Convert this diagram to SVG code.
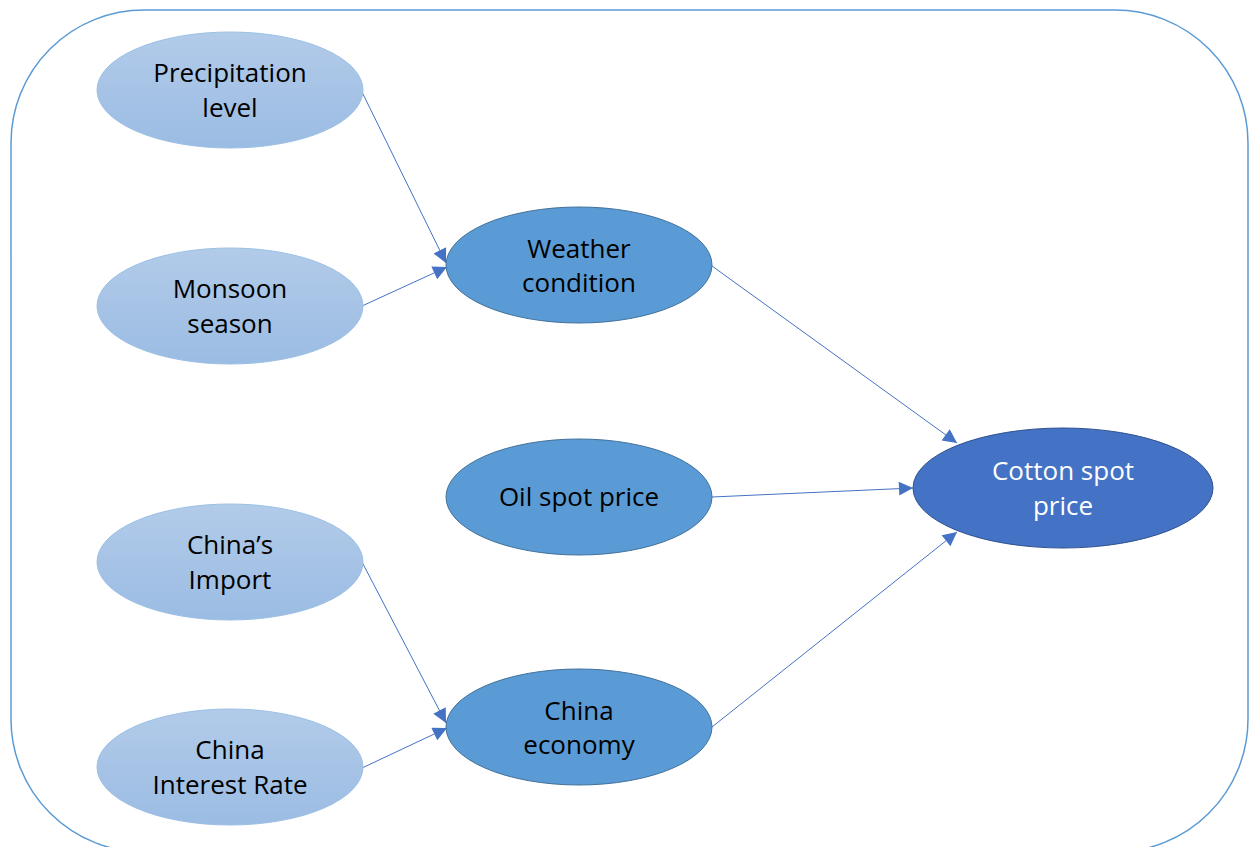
<svg xmlns="http://www.w3.org/2000/svg" width="1249" height="847" viewBox="0 0 1249 847">
<style>
.light{fill:url(#lg);stroke:#9cc0e4;stroke-width:1}
.mid{fill:#5b9bd5;stroke:#41719c;stroke-width:1}
.dark{fill:#4472c4;stroke:#2f528f;stroke-width:1}
.t{font-family:"Open Sans","Noto Sans",sans-serif;font-size:26px;text-anchor:middle;fill:#000}
.w{fill:#fff}
.c{stroke:#4472c4;stroke-width:1;fill:none;marker-end:url(#ah)}
</style>
<defs>
<linearGradient id="lg" x1="0" y1="0" x2="0" y2="1">
<stop offset="0" stop-color="#b2cbe9"/>
<stop offset="1" stop-color="#9bbce3"/>
</linearGradient>
<marker id="ah" viewBox="0 0 10 10" refX="10" refY="5" markerWidth="16" markerHeight="14" markerUnits="userSpaceOnUse" orient="auto">
<path d="M0,0 L10,5 L0,10 z" fill="#4472c4"/>
</marker>
</defs>
<rect x="11" y="10" width="1237" height="842" rx="133" ry="133" fill="#fff" stroke="#5b9bd5" stroke-width="1.5"/>
<g id="connectors">
<line class="c" x1="362" y1="92" x2="446" y2="263"/>
<line class="c" x1="362" y1="306" x2="447" y2="267"/>
<line class="c" x1="712" y1="266" x2="957" y2="443"/>
<line class="c" x1="712" y1="497" x2="913" y2="488"/>
<line class="c" x1="712" y1="727" x2="957" y2="532"/>
<line class="c" x1="362" y1="562" x2="446" y2="723"/>
<line class="c" x1="362" y1="768" x2="447" y2="728"/>
</g>
<g id="precipitation">
<ellipse class="light" cx="230" cy="90" rx="133" ry="58"/>
<text class="t" x="230" y="82">Precipitation</text>
<text class="t" x="230" y="117">level</text>
</g>
<g id="monsoon">
<ellipse class="light" cx="230" cy="306" rx="133" ry="58"/>
<text class="t" x="230" y="298">Monsoon</text>
<text class="t" x="230" y="333">season</text>
</g>
<g id="chinas-import">
<ellipse class="light" cx="230" cy="562" rx="133" ry="58"/>
<text class="t" x="230" y="554">China’s</text>
<text class="t" x="230" y="589">Import</text>
</g>
<g id="china-interest">
<ellipse class="light" cx="230" cy="767" rx="133" ry="58"/>
<text class="t" x="230" y="759">China</text>
<text class="t" x="230" y="794">Interest Rate</text>
</g>
<g id="weather">
<ellipse class="mid" cx="579" cy="265" rx="133" ry="58"/>
<text class="t" x="579" y="258">Weather</text>
<text class="t" x="579" y="292">condition</text>
</g>
<g id="oil">
<ellipse class="mid" cx="579" cy="497" rx="133" ry="58"/>
<text class="t" x="579" y="506">Oil spot price</text>
</g>
<g id="china-economy">
<ellipse class="mid" cx="579" cy="727" rx="133" ry="58"/>
<text class="t" x="579" y="720">China</text>
<text class="t" x="579" y="754">economy</text>
</g>
<g id="cotton">
<ellipse class="dark" cx="1063" cy="488" rx="150" ry="60"/>
<text class="t w" x="1063" y="480">Cotton spot</text>
<text class="t w" x="1063" y="515">price</text>
</g>
</svg>
